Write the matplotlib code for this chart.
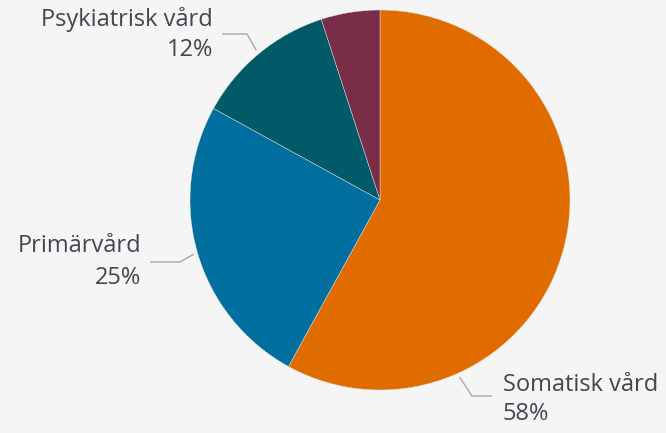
import numpy as np
import matplotlib.pyplot as plt

labels = ["Somatisk vård", "Primärvård", "Psykiatrisk vård", ""]
values = [58, 25, 12, 5]
colors = ["#e06c00", "#006f9f", "#015a67", "#7a2d48"]

plt.rcParams['font.family'] = ['Open Sans', 'DejaVu Sans']

H = 433
fig = plt.figure(figsize=(6.66, 4.33), dpi=100, facecolor="#f5f5f5")
ax = fig.add_axes([0, 0, 1, 1])
ax.set_facecolor("#f5f5f5")

cx, cy, r = 380, H - 200, 190
wedges, _ = ax.pie(values, colors=colors, startangle=90, counterclock=False,
                   center=(cx, cy), radius=r, frame=True,
                   wedgeprops=dict(edgecolor="#e8e8e8", linewidth=0.3))
ax.set_xlim(0, 666)
ax.set_ylim(0, H)
ax.set_aspect("equal")
ax.axis("off")

# label layout in pixel coords (top origin): text x, name y, value y, ha, connector elbow/end
layout = {
    0: dict(tx=503, y1=385, y2=414, ha="left", ang=-65.8, elbow=(472, 396), end=(492, 396)),
    1: dict(tx=141, y1=246, y2=278, ha="right", ang=None, elbow=(180, 262), end=(150, 262)),
    2: dict(tx=213, y1=19, y2=50, ha="right", ang=None, elbow=(247, 34), end=(222, 34)),
}

for i, w in enumerate(wedges):
    if not labels[i]:
        continue
    lay = layout[i]
    ang = lay["ang"] if lay["ang"] is not None else (w.theta1 + w.theta2) / 2
    theta = np.deg2rad(ang)
    rr = r + 4
    ax_pt = (cx + rr * np.cos(theta), cy + rr * np.sin(theta))
    xs = [ax_pt[0], lay["elbow"][0], lay["end"][0]]
    ys = [ax_pt[1], H - lay["elbow"][1], H - lay["end"][1]]
    ax.plot(xs, ys, color="#a8a8a8", lw=1, solid_capstyle="butt")
    ax.text(lay["tx"], H - lay["y1"], labels[i], ha=lay["ha"], va="center",
            fontsize=17, color="#43454f")
    ax.text(lay["tx"], H - lay["y2"], f"{values[i]}%", ha=lay["ha"], va="center",
            fontsize=17, color="#43454f")

fig.savefig("out.png", dpi=100, facecolor=fig.get_facecolor())
